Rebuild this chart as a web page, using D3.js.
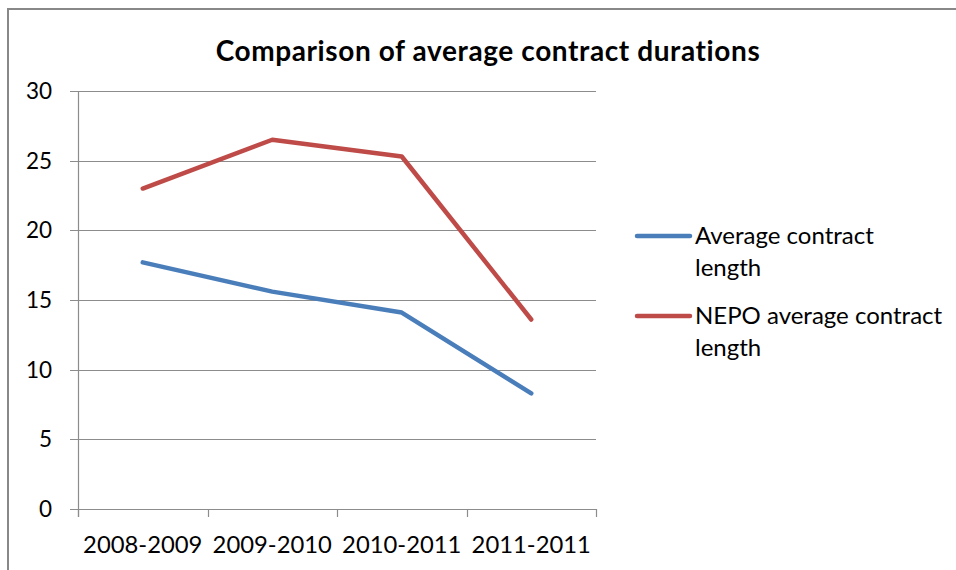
<!DOCTYPE html>
<html><head><meta charset="utf-8">
<script src="https://cdn.jsdelivr.net/npm/d3@7"></script>
<style>body{margin:0;background:#fff}svg{display:block}text{font-family:Lato,"Open Sans",sans-serif;fill:#000}</style>
</head><body>
<svg id="c" width="956" height="570"></svg>
<script>
const categories = ["2008-2009","2009-2010","2010-2011","2011-2011"];
const avgLength = [17.7, 15.6, 14.1, 8.3];
const nepoLength = [23.0, 26.5, 25.3, 13.6];
const yTicks = [0,5,10,15,20,25,30];
const seriesNames = [["Average contract","length"],["NEPO average contract","length"]];
const colors = ["#4a7ebb","#be4b48"];

const svg = d3.select("#c");
// outer border
svg.append("rect").attr("x",8).attr("y",9).attr("width",1000).attr("height",700)
  .attr("fill","none").attr("stroke","#888").attr("stroke-width",2);

svg.append("text").attr("x",488).attr("y",61).attr("text-anchor","middle")
  .attr("font-size",28).attr("letter-spacing",0.6).attr("font-weight","bold").text("Comparison of average contract durations");

const L=78,R=596,T=91,B=509;
const x = d3.scaleBand().domain(categories).range([L,R]);
const y = d3.scaleLinear().domain([0,30]).range([B,T]);

// gridlines
svg.append("g").selectAll("line").data(yTicks).join("line")
  .attr("x1",L-8).attr("x2",R).attr("y1",d=>Math.round(y(d))+0.5).attr("y2",d=>Math.round(y(d))+0.5)
  .attr("stroke","#8c8c8c").attr("stroke-width",1.2);
// y axis line
svg.append("line").attr("x1",L+0.5).attr("x2",L+0.5).attr("y1",T).attr("y2",B+8)
  .attr("stroke","#8c8c8c").attr("stroke-width",1.2);
// x ticks
const xt = categories.map(c=>x(c)).concat([R]);
svg.append("g").selectAll("line").data(xt).join("line")
  .attr("x1",d=>Math.round(d)+0.5).attr("x2",d=>Math.round(d)+0.5).attr("y1",B).attr("y2",B+8)
  .attr("stroke","#8c8c8c").attr("stroke-width",1.2);

// y labels
svg.append("g").selectAll("text").data(yTicks).join("text")
  .attr("x",L-26).attr("y",d=>y(d)+8).attr("text-anchor","end").attr("font-size",22.5).text(d=>d);
// x labels
svg.append("g").selectAll("text").data(categories).join("text")
  .attr("x",d=>x(d)+x.bandwidth()/2).attr("y",553).attr("text-anchor","middle").attr("font-size",23.8).text(d=>d);

const line = d3.line().x((d,i)=>x(categories[i])+x.bandwidth()/2).y(d=>y(d));
[avgLength,nepoLength].forEach((s,i)=>{
  svg.append("path").attr("d",line(s)).attr("fill","none").attr("stroke",colors[i])
    .attr("stroke-width",4.5).attr("stroke-linecap","round").attr("stroke-linejoin","round");
});

// legend
const ly=[236,316];
seriesNames.forEach((n,i)=>{
  svg.append("line").attr("x1",637).attr("x2",690).attr("y1",ly[i]).attr("y2",ly[i])
    .attr("stroke",colors[i]).attr("stroke-width",4.5).attr("stroke-linecap","round");
  n.forEach((t,j)=>svg.append("text").attr("x",695).attr("y",ly[i]+8+j*32).attr("font-size",24).text(t));
});
</script>
</body></html>
